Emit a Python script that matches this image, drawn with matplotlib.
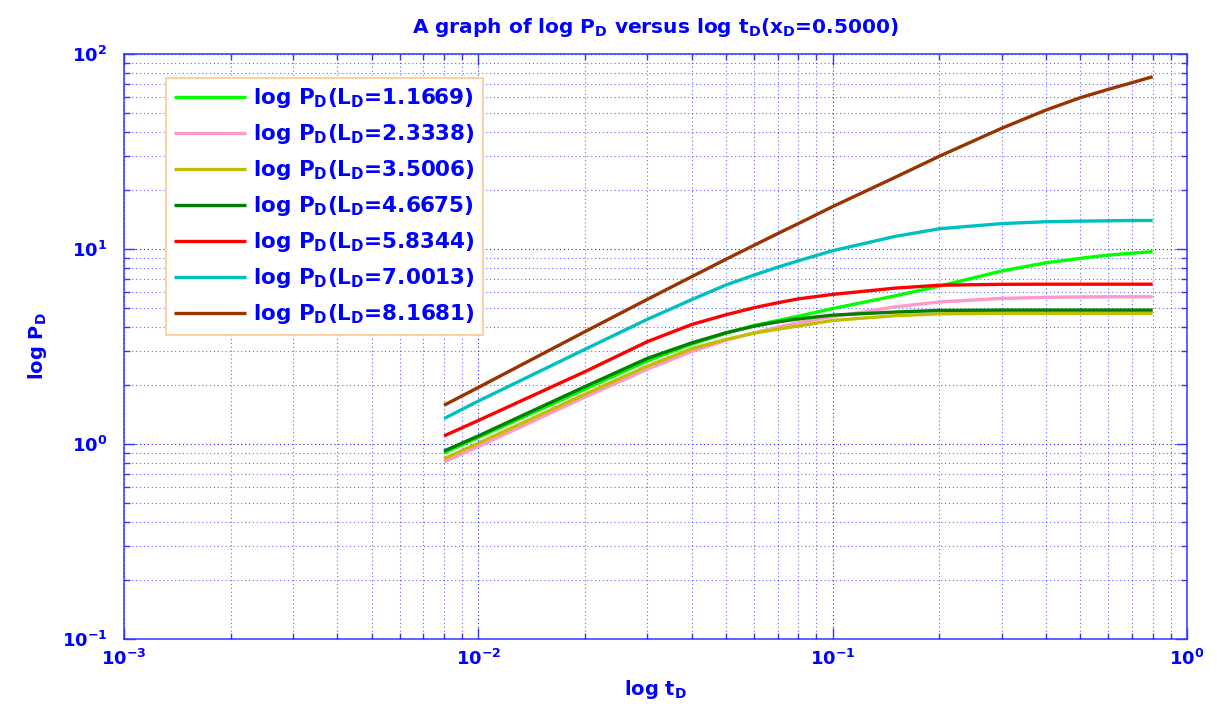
import numpy as np
import matplotlib
matplotlib.use("Agg")
import matplotlib.pyplot as plt
from matplotlib.ticker import LogLocator, NullFormatter, LogFormatterSciNotation

# ---- data ----
t_D = [0.008, 0.01, 0.02, 0.03, 0.04, 0.05, 0.06, 0.07, 0.08, 0.1, 0.15, 0.2,
       0.3, 0.4, 0.5, 0.6, 0.7, 0.8]

L_values = ["1.1669", "2.3338", "3.5006", "4.6675", "5.8344", "7.0013", "8.1681"]

pd_L1 = [0.90, 1.08, 1.91, 2.67, 3.25, 3.70, 4.05, 4.30, 4.52, 4.95, 5.75, 6.45,
         7.71, 8.50, 8.96, 9.30, 9.52, 9.69]
pd_L2 = [0.81, 0.97, 1.74, 2.42, 2.98, 3.40, 3.72, 3.97, 4.19, 4.50, 5.05, 5.35,
         5.58, 5.65, 5.68, 5.69, 5.69, 5.69]
pd_L3 = [0.84, 1.01, 1.80, 2.51, 3.08, 3.44, 3.70, 3.88, 4.03, 4.30, 4.55, 4.65,
         4.68, 4.68, 4.68, 4.68, 4.68, 4.68]
pd_L4 = [0.92, 1.10, 1.97, 2.75, 3.30, 3.72, 4.02, 4.23, 4.38, 4.58, 4.75, 4.84,
         4.86, 4.86, 4.86, 4.86, 4.86, 4.86]
pd_L5 = [1.10, 1.32, 2.35, 3.35, 4.10, 4.60, 5.00, 5.30, 5.55, 5.85, 6.30, 6.52,
         6.59, 6.60, 6.60, 6.60, 6.60, 6.60]
pd_L6 = [1.35, 1.66, 3.06, 4.36, 5.50, 6.54, 7.35, 8.07, 8.70, 9.80, 11.6, 12.7,
         13.5, 13.8, 13.9, 13.95, 14.0, 14.0]
pd_L7 = [1.58, 1.95, 3.77, 5.52, 7.21, 8.86, 10.45, 12.0, 13.5, 16.5, 23.3, 29.9,
         41.6, 51.6, 59.7, 65.9, 71.3, 76.5]

series = [pd_L1, pd_L2, pd_L3, pd_L4, pd_L5, pd_L6, pd_L7]
colors = ["#00FF00", "#FF99CC", "#BFBF00", "#007F00", "#FF0000", "#00BFBF", "#993300"]

# ---- style ----
plt.rcParams['font.family'] = ['DejaVu Sans']
plt.rcParams['font.weight'] = 'bold'
BLUE = "#0000FF"
AXBLUE = "#3535FF"

fig = plt.figure(figsize=(12.17, 7.07), dpi=100)
ax = fig.add_axes([124/1217, 1 - 639/707, (1187-124)/1217, (639-54)/707])

for vals, col, L in zip(series, colors, L_values):
    label = "log P$_{\\mathdefault{D}}$(L$_{\\mathdefault{D}}$=" + L + ")"
    ax.plot(t_D, vals, color=col, lw=2.4, label=label, solid_capstyle='butt',
            solid_joinstyle='round')

ax.set_xscale('log')
ax.set_yscale('log')
ax.set_xlim(1e-3, 1)
ax.set_ylim(1e-1, 1e2)

for axis in (ax.xaxis, ax.yaxis):
    axis.set_major_locator(LogLocator(base=10, numticks=10))
    axis.set_minor_locator(LogLocator(base=10, subs=np.arange(2, 10), numticks=10))
    axis.set_minor_formatter(NullFormatter())
    axis.set_major_formatter(LogFormatterSciNotation())

ax.grid(True, which='major', color=BLUE, linestyle=(0, (1, 2.5)), lw=0.8, alpha=0.85)
ax.grid(True, which='minor', color=BLUE, linestyle=(0, (1, 2.5)), lw=0.8, alpha=0.6)

ax.tick_params(which='both', direction='in', top=True, right=True, colors=AXBLUE,
               labelcolor=BLUE, labelsize=13)
ax.tick_params(which='major', length=8, width=1)
ax.tick_params(which='minor', length=4.5, width=1)
ax.tick_params(axis='x', which='major', pad=7)
ax.tick_params(axis='y', which='major', pad=12)
for sp in ax.spines.values():
    sp.set_color(AXBLUE)
    sp.set_linewidth(1.1)

ax.set_title("A graph of log P$_{\\mathdefault{D}}$ versus log t$_{\\mathdefault{D}}$"
             "(x$_{\\mathdefault{D}}$=0.5000)", color=BLUE, fontsize=14.5,
             fontweight='bold', pad=15)
ax.set_xlabel("log t$_{\\mathdefault{D}}$", color=BLUE, fontsize=14, fontweight='bold')
ax.set_ylabel("log P$_{\\mathdefault{D}}$", color=BLUE, fontsize=14, fontweight='bold')
ax.xaxis.set_label_coords(0.5, -0.066)
ax.yaxis.set_label_coords(-0.071, 0.5)

leg = ax.legend(loc='upper left', bbox_to_anchor=(0.0395, 0.959), borderaxespad=0,
                prop={'size': 15.5, 'weight': 'bold'}, handlelength=3.35,
                handletextpad=0.3, labelspacing=0.56, borderpad=0.38,
                frameon=True, fancybox=False, framealpha=1)
leg.get_frame().set_edgecolor("#FFC890")
leg.get_frame().set_linewidth(1.2)
for txt in leg.get_texts():
    txt.set_color(BLUE)

fig.savefig("out.png", dpi=100, facecolor='white')
